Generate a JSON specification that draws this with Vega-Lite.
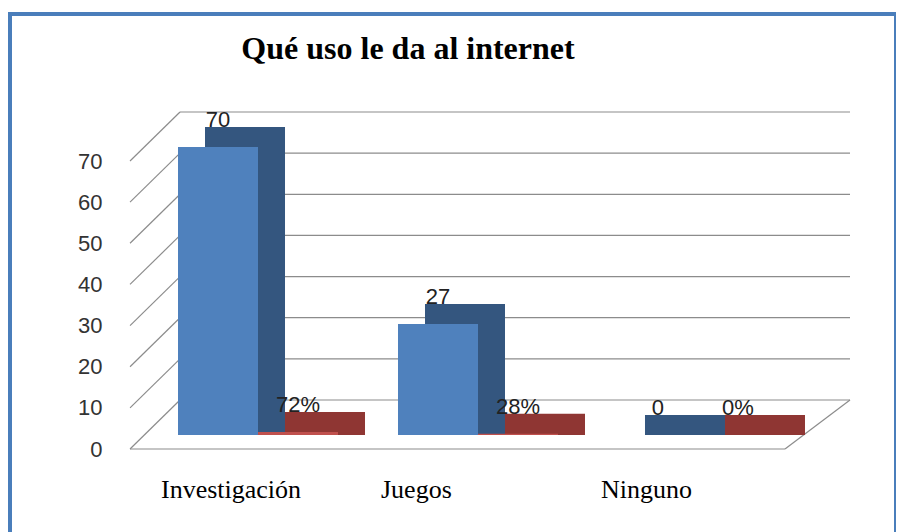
{
  "$schema": "https://vega.github.io/schema/vega-lite/v6.json",
  "width": 886,
  "height": 546,
  "autosize": {"type": "none"},
  "padding": {"left": 10, "top": 14, "right": 0, "bottom": 0},
  "background": "white",
  "config": {"view": {"stroke": "#4a7ebb", "strokeWidth": 4}},
  "title": {
    "text": "Qué uso le da al internet",
    "font": "Liberation Serif",
    "fontSize": 32,
    "fontWeight": "bold",
    "color": "#000000",
    "anchor": "middle",
    "frame": "group",
    "offset": 0,
    "baseline": "alphabetic",
    "dx": -45,
    "dy": 77
  },
  "datasets": {
    "bars": [
      {"categoria": "Investigación", "serie": "Frecuencia", "valor": 70, "etiqueta": "70"},
      {"categoria": "Investigación", "serie": "Porcentaje", "valor": 0.72, "etiqueta": "72%"},
      {"categoria": "Juegos", "serie": "Frecuencia", "valor": 27, "etiqueta": "27"},
      {"categoria": "Juegos", "serie": "Porcentaje", "valor": 0.28, "etiqueta": "28%"},
      {"categoria": "Ninguno", "serie": "Frecuencia", "valor": 0, "etiqueta": "0"},
      {"categoria": "Ninguno", "serie": "Porcentaje", "valor": 0, "etiqueta": "0%"}
    ],
    "grid": [{"v": 0}, {"v": 10}, {"v": 20}, {"v": 30}, {"v": 40}, {"v": 50}, {"v": 60}, {"v": 70}],
    "floor": [{"v": 0}]
  },
  "layer": [
    {
      "layer": [
        {
          "data": {"name": "grid"},
          "mark": {"type": "rule", "color": "#8c8c8c", "strokeWidth": 1.2, "yOffset": -35},
          "encoding": {
            "x": {"datum": 0, "type": "quantitative", "scale": {"domain": [0, 1], "range": [170, 840], "nice": false, "zero": false}, "axis": null},
            "x2": {"datum": 1},
            "y": {"field": "v", "type": "quantitative", "scale": {"domain": [0, 70], "range": [421, 133], "nice": false}}
          }
        },
        {
          "data": {"name": "grid"},
          "mark": {"type": "rule", "color": "#8c8c8c", "strokeWidth": 1.2, "yOffset": 14, "y2Offset": -35},
          "encoding": {
            "x": {"datum": -0.0746, "type": "quantitative"},
            "x2": {"datum": 0},
            "y": {"field": "v", "type": "quantitative"},
            "y2": {"field": "v"}
          }
        },
        {
          "data": {"name": "floor"},
          "mark": {"type": "rule", "color": "#8c8c8c", "strokeWidth": 1.2, "yOffset": 14},
          "encoding": {
            "x": {"datum": -0.0746, "type": "quantitative"},
            "x2": {"datum": 0.903},
            "y": {"field": "v", "type": "quantitative"}
          }
        },
        {
          "data": {"name": "floor"},
          "mark": {"type": "rule", "color": "#8c8c8c", "strokeWidth": 1.2, "yOffset": 14, "y2Offset": -35},
          "encoding": {
            "x": {"datum": 0.903, "type": "quantitative"},
            "x2": {"datum": 1},
            "y": {"field": "v", "type": "quantitative"},
            "y2": {"field": "v"}
          }
        }
      ]
    },
    {
      "data": {"name": "bars"},
      "mark": {"type": "bar", "yOffset": -20},
      "encoding": {
        "x": {
          "field": "categoria",
          "type": "nominal",
          "sort": null,
          "scale": {"domain": ["Investigación", "Juegos", "Ninguno"], "range": [165, 825], "paddingInner": 0.2727, "paddingOuter": 0.1364},
          "axis": null
        },
        "xOffset": {"field": "serie", "type": "nominal", "sort": null, "scale": {"paddingInner": 0, "paddingOuter": 0}},
        "y": {"field": "valor", "type": "quantitative"},
        "y2": {"datum": 0},
        "color": {"condition": {"test": "datum.serie === 'Frecuencia'", "value": "#34567f"}, "value": "#8f3633"}
      }
    },
    {
      "data": {"name": "bars"},
      "encoding": {
        "x": {
          "field": "categoria",
          "type": "nominal",
          "sort": null,
          "scale": {"domain": ["Investigación", "Juegos", "Ninguno"], "range": [138, 798], "paddingInner": 0.2727, "paddingOuter": 0.1364},
          "axis": {
            "orient": "bottom",
            "title": null,
            "domain": false,
            "ticks": false,
            "labelAngle": 0,
            "labelAlign": "left",
            "labelFont": "Liberation Serif",
            "labelFontSize": 26,
            "labelColor": "#000000",
            "labelOffset": -97,
            "labelPadding": 0,
            "offset": -84
          }
        },
        "xOffset": {"field": "serie", "type": "nominal", "sort": null, "scale": {"paddingInner": 0, "paddingOuter": 0}}
      },
      "layer": [
        {
          "mark": {"type": "bar"},
          "encoding": {
            "y": {
              "field": "valor",
              "type": "quantitative",
              "axis": {
                "title": null,
                "domain": false,
                "ticks": false,
                "grid": false,
                "values": [0, 10, 20, 30, 40, 50, 60, 70],
                "labelFont": "Liberation Sans",
                "labelFontSize": 22,
                "labelColor": "#333333",
                "labelOffset": 14,
                "labelPadding": 0,
                "offset": -92
              }
            },
            "y2": {"datum": 0},
            "color": {"condition": {"test": "datum.serie === 'Frecuencia'", "value": "#4f81bd"}, "value": "#c0504d"}
          }
        },
        {
          "mark": {"type": "text", "baseline": "alphabetic", "dy": -20, "font": "Liberation Sans", "fontSize": 22, "color": "#222222"},
          "encoding": {
            "y": {"field": "valor", "type": "quantitative"},
            "text": {"field": "etiqueta"}
          }
        }
      ]
    }
  ],
  "resolve": {"scale": {"x": "independent"}}
}
